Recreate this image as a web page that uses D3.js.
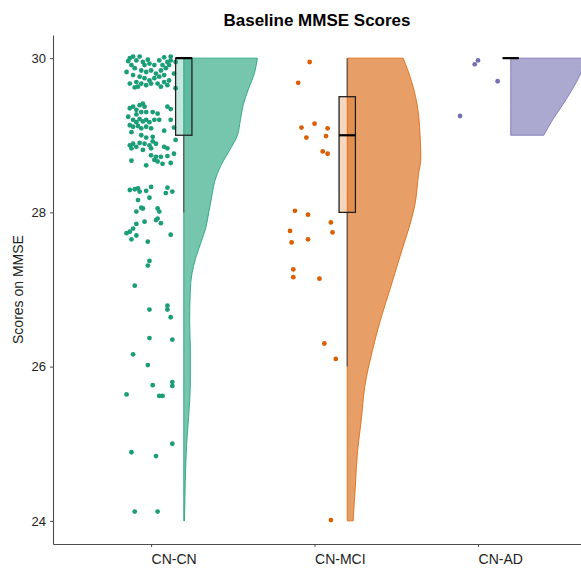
<!DOCTYPE html>
<html>
<head>
<meta charset="utf-8">
<script src="https://cdn.jsdelivr.net/npm/d3@7"></script>
<style>
  body { margin: 0; background: #fff; }
  svg { display: block; font-family: "Liberation Sans", Arial, sans-serif; }
</style>
</head>
<body>
<div id="chart"></div>
<script>
// --- data ---
const groups = ['CN-CN', 'CN-MCI', 'CN-AD'];
const groupColors = ['#1b9e77', '#d95f02', '#7570b3'];
const yTicks = [24, 26, 28, 30];

// jittered observations: [x offset from category, MMSE score]
const pointsCNCN = [
    [-0.13, 30.00], [-0.11, 30.02], [-0.09, 29.97], [-0.07, 30.02], [-0.05, 29.95], [-0.04, 29.91],
    [-0.01, 29.93], [0.02, 29.91], [0.05, 29.97], [0.07, 29.91], [0.10, 29.95], [0.12, 29.97],
    [-0.12, 29.91], [-0.10, 29.87], [-0.06, 29.84], [-0.03, 29.82], [0.00, 29.84], [0.03, 29.80],
    [0.06, 29.84], [0.09, 29.87], [0.11, 29.91], [-0.11, 29.78], [-0.07, 29.76], [-0.04, 29.74],
    [-0.01, 29.71], [0.02, 29.74], [0.05, 29.76], [0.08, 29.78], [-0.13, 29.67], [-0.09, 29.69],
    [-0.06, 29.67], [-0.03, 29.65], [0.00, 29.67], [0.04, 29.67], [0.08, 29.69], [0.10, 29.65],
    [-0.08, 29.63], [0.06, 29.63], [0.11, 29.71], [0.12, 30.02], [0.15, 29.95], [0.15, 29.61],
    [-0.15, 29.82], [-0.14, 29.96], [0.14, 29.80], [-0.02, 29.98], [0.08, 30.01], [-0.10, 29.62],
    [-0.13, 29.35], [-0.11, 29.37], [-0.09, 29.33], [-0.07, 29.39], [-0.05, 29.41], [-0.04, 29.37],
    [-0.06, 29.30], [-0.03, 29.30], [0.01, 29.30], [0.04, 29.28], [0.10, 29.37], [0.12, 29.34],
    [-0.11, 29.20], [-0.09, 29.17], [-0.07, 29.21], [-0.05, 29.18], [-0.03, 29.20], [-0.01, 29.17],
    [0.02, 29.20], [0.05, 29.20], [-0.13, 29.13], [-0.11, 29.11], [-0.08, 29.12], [-0.06, 29.09],
    [-0.03, 29.11], [0.00, 29.09], [-0.12, 29.04], [-0.06, 29.00], [-0.03, 28.97], [0.01, 28.98],
    [0.12, 29.20], [-0.14, 29.24], [0.08, 29.06], [0.14, 29.10], [-0.09, 29.27],
    [-0.13, 28.87], [-0.11, 28.89], [-0.09, 28.85], [-0.07, 28.90], [-0.04, 28.89], [-0.01, 28.87],
    [0.01, 28.92], [0.03, 28.89], [-0.12, 28.83], [-0.05, 28.81], [0.00, 28.83], [0.08, 28.85],
    [0.10, 28.83], [0.00, 28.74], [0.03, 28.72], [0.06, 28.72], [0.10, 28.73], [0.14, 28.76],
    [0.02, 28.68], [0.04, 28.66], [0.07, 28.63], [0.12, 28.64], [-0.12, 28.67], [-0.03, 28.61],
    [0.15, 28.94],
    [-0.13, 28.29], [-0.10, 28.30], [-0.08, 28.31], [-0.07, 28.27], [-0.03, 28.28], [0.00, 28.33],
    [0.10, 28.32], [0.13, 28.27], [0.09, 28.25], [-0.08, 28.16], [-0.01, 28.19], [-0.05, 28.05],
    [-0.06, 28.06], [-0.09, 28.01], [0.04, 28.05], [0.05, 28.01], [0.04, 27.92], [0.03, 27.90],
    [-0.04, 27.88], [0.06, 27.86], [-0.09, 27.85],
    [-0.11, 27.79], [-0.13, 27.75], [-0.15, 27.73], [-0.09, 27.70], [-0.12, 27.65], [0.12, 27.71],
    [-0.02, 27.62], [-0.01, 27.37], [-0.02, 27.31], [-0.10, 27.05], [-0.01, 26.74], [0.10, 26.79],
    [0.10, 26.74], [0.12, 26.64], [-0.01, 26.37], [0.13, 26.35], [-0.11, 26.16], [-0.02, 26.02],
    [0.01, 25.76], [0.13, 25.80], [0.13, 25.75], [-0.15, 25.64], [0.05, 25.62], [0.07, 25.62],
    [0.13, 25.00], [-0.12, 24.89], [0.03, 24.84], [-0.10, 24.12], [0.04, 24.12]
];
const pointsCNMCI = [
    [-0.03, 29.95], [-0.10, 29.68], [-0.08, 29.10], [0.00, 29.15], [0.08, 29.09], [-0.05, 28.97],
    [0.07, 28.99], [0.05, 28.79], [0.08, 28.76], [-0.12, 28.02], [-0.04, 27.97], [0.10, 27.87],
    [-0.15, 27.76], [0.11, 27.74], [-0.04, 27.65], [-0.14, 27.61], [-0.13, 27.26], [-0.13, 27.16],
    [0.03, 27.14], [0.06, 26.30], [0.13, 26.10], [0.10, 24.01]
];
const pointsCNAD = [
    [0.00, 29.97], [-0.02, 29.92], [0.12, 29.70], [-0.11, 29.25]
];

// half-violin outlines: [score, relative width]
const densityCNCN = [
    [30.0, 1.00], [29.8, 0.96], [29.6, 0.88], [29.4, 0.81], [29.2, 0.77], [29.0, 0.73],
    [28.8, 0.62], [28.6, 0.50], [28.4, 0.42], [28.2, 0.38], [28.0, 0.34], [27.8, 0.30],
    [27.6, 0.23], [27.4, 0.16], [27.2, 0.11], [27.0, 0.09], [26.6, 0.08], [26.2, 0.09],
    [25.8, 0.09], [25.4, 0.07], [25.0, 0.04], [24.5, 0.02], [24.0, 0.01]
];
const densityCNMCI = [
    [30.0, 0.76], [29.8, 0.84], [29.4, 0.95], [29.0, 0.99], [28.7, 1.00], [28.5, 0.97],
    [28.1, 0.92], [27.8, 0.84], [27.5, 0.74], [27.0, 0.58], [26.6, 0.45], [26.2, 0.34],
    [25.75, 0.24], [25.3, 0.19], [24.9, 0.14], [24.45, 0.11], [24.0, 0.08]
];
const densityCNAD = [
    [30.0, 1.00], [29.8, 0.95], [29.6, 0.84], [29.4, 0.71], [29.2, 0.57], [29.0, 0.45]
];

// box statistics per group
const whiskerLow = [28, 26, 30];
const boxQ1 = [29, 28, 30];
const boxMedian = [30, 29, 30];
const boxQ3 = [30, 29.5, 30];
const whiskerHigh = [30, 30, 30];

const allPoints = [pointsCNCN, pointsCNMCI, pointsCNAD];
const allDensity = [densityCNCN, densityCNMCI, densityCNAD];

// --- layout ---
const width = 581, height = 569;
const mLeft = 53, mTop = 35, mBottom = 544;
const violinOffset = 0.2, violinWidth = 0.45, boxWidth = 0.1;

const svg = d3.select('#chart').append('svg')
    .attr('width', width).attr('height', height);
svg.append('rect').attr('width', width).attr('height', height).attr('fill', '#fff');

const x = d3.scaleLinear().domain([0.4, 3.63]).range([mLeft, width]);
const y = d3.scaleLinear().domain([23.7, 30.3]).range([mBottom, mTop]);
const step = x(2) - x(1);

svg.append('clipPath').attr('id', 'panel')
    .append('rect').attr('x', mLeft).attr('y', mTop).attr('width', width - mLeft).attr('height', mBottom - mTop);
const g = svg.append('g').attr('clip-path', 'url(#panel)');

// jittered points
groups.forEach((name, i) => {
    g.append('g').selectAll('circle').data(allPoints[i]).enter().append('circle')
        .attr('cx', (d) => x(i + 1 + d[0]))
        .attr('cy', (d) => y(d[1]))
        .attr('r', 2.4)
        .attr('fill', groupColors[i]);
});

// half violins
groups.forEach((name, i) => {
    const base = x(i + 1 + violinOffset);
    const area = d3.area()
        .y((d) => y(d[0]))
        .x0(base)
        .x1((d) => base + d[1] * violinWidth * step)
        .curve(d3.curveMonotoneY);
    g.append('path')
        .attr('d', area(allDensity[i]))
        .attr('fill', groupColors[i]).attr('fill-opacity', 0.6)
        .attr('stroke', groupColors[i]).attr('stroke-width', 0.8);
});

// box plots
groups.forEach((name, i) => {
    const cx = x(i + 1 + violinOffset);
    const bw = boxWidth * step;
    const bg = g.append('g');
    bg.append('line').attr('x1', cx).attr('x2', cx)
        .attr('y1', y(whiskerLow[i])).attr('y2', y(boxQ1[i]))
        .attr('stroke', '#555').attr('stroke-width', 1.2);
    bg.append('line').attr('x1', cx).attr('x2', cx)
        .attr('y1', y(boxQ3[i])).attr('y2', y(whiskerHigh[i]))
        .attr('stroke', '#555').attr('stroke-width', 1.2);
    bg.append('rect')
        .attr('x', cx - bw / 2).attr('width', bw)
        .attr('y', y(boxQ3[i])).attr('height', y(boxQ1[i]) - y(boxQ3[i]))
        .attr('fill', groupColors[i]).attr('fill-opacity', 0.25)
        .attr('stroke', '#222').attr('stroke-width', 1.3);
    bg.append('line').attr('x1', cx - bw / 2).attr('x2', cx + bw / 2)
        .attr('y1', y(boxMedian[i])).attr('y2', y(boxMedian[i]))
        .attr('stroke', '#000').attr('stroke-width', 2.2);
});

// axes
const styleAxis = (sel) => {
    sel.select('.domain').attr('stroke', '#4d4d4d').attr('stroke-width', 1.1);
    sel.selectAll('.tick line').attr('stroke', '#4d4d4d');
    sel.selectAll('.tick text').attr('fill', '#222').style('font-family', '"Liberation Sans", Arial, sans-serif');
};
svg.append('g').attr('transform', `translate(${mLeft},0)`)
    .call(d3.axisLeft(y).tickValues(yTicks).tickFormat(d3.format('d'))
        .tickSize(3).tickSizeOuter(0).tickPadding(4))
    .call(styleAxis)
    .call((s) => s.selectAll('.tick text').style('font-size', '13px'));
svg.append('g').attr('transform', `translate(0,${mBottom})`)
    .call(d3.axisBottom(x).tickValues([1, 2, 3]).tickFormat((d) => groups[d - 1])
        .tickSize(3).tickSizeOuter(0).tickPadding(7))
    .call(styleAxis)
    .call((s) => s.selectAll('.tick text').attr('text-anchor', 'start').style('font-size', '14px'));

// titles
svg.append('text')
    .attr('x', (mLeft + width) / 2).attr('y', 26)
    .attr('text-anchor', 'middle')
    .style('font-size', '17px').style('font-weight', 'bold')
    .text('Baseline MMSE Scores');
svg.append('text')
    .attr('transform', `translate(23,${(mTop + mBottom) / 2}) rotate(-90)`)
    .attr('text-anchor', 'middle')
    .attr('fill', '#222')
    .style('font-size', '14px')
    .text('Scores on MMSE');
</script>
</body>
</html>
